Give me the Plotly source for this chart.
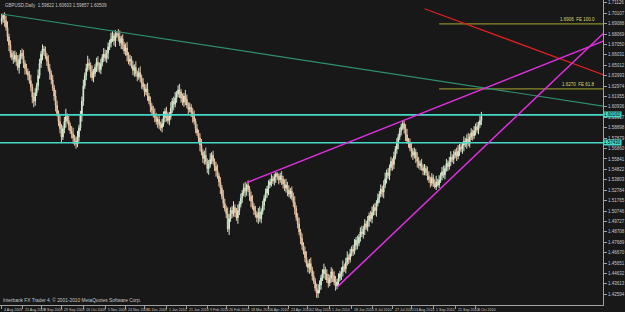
import plotly.graph_objects as go

# ---- data (prices in pips above 1.4000) ----
OPEN0 = 2930
CLOSE = [
    2960, 2990, 2940, 2870,
    2780, 2700, 2620, 2580, 2560,
    2600, 2540, 2480, 2560, 2620, 2590, 2520, 2470,
    2440, 2400, 2350, 2290, 2190, 2150, 2230, 2300,
    2400, 2520, 2610, 2660, 2640, 2590,
    2540, 2470, 2420, 2360, 2280, 2200, 2110, 2030, 1950, 1880,
    1800, 1880, 1950, 2000, 1960, 1910, 1860, 1830, 1790, 1760, 1730, 1800, 1890, 2010,
    2150, 2300, 2400, 2470, 2520, 2500,
    2440, 2380, 2420, 2480, 2530, 2500, 2460, 2520, 2580, 2610, 2570, 2620, 2680, 2720, 2760,
    2790, 2740, 2800, 2810, 2780, 2720, 2760,
    2700, 2640, 2670, 2600, 2540, 2560, 2500, 2450, 2480, 2420, 2390, 2430, 2380,
    2330, 2290, 2240, 2270, 2200, 2150, 2100, 2060, 2020, 1990, 1950, 1970, 1920, 1890, 1930,
    1990, 2050, 2010, 1960, 2000, 2080, 2150, 2120, 2180, 2220,
    2260, 2240, 2180, 2140, 2200, 2170, 2110, 2070, 2090, 2040, 2000,
    1950, 1880, 1840, 1790, 1720, 1650, 1590, 1620, 1560, 1490, 1530,
    1580, 1620, 1560, 1510, 1470, 1420, 1360, 1300,
    1220, 1150, 1100, 1050, 900, 1000, 1080, 1050, 1110, 1060,
    1010, 1080, 1140, 1200, 1250, 1300, 1270, 1330, 1290, 1220,
    1170, 1120, 1080, 1040, 1010, 1060, 1000, 1070, 1130, 1200,
    1250, 1290, 1330, 1360, 1390, 1370, 1410, 1440, 1410, 1380, 1420,
    1390, 1340, 1300, 1330, 1280, 1240, 1270, 1210, 1160,
    1100, 1010, 950, 870, 810, 740, 680, 620, 560, 520,
    560, 500, 440, 390, 320, 270, 300, 350,
    420, 460, 500, 460, 400, 370, 420, 480, 440, 380, 340, 380, 420, 460,
    480, 530, 510, 570, 620, 600, 660, 700, 680, 740, 790, 760, 820,
    870, 850, 900, 950, 920, 980, 1030, 1000, 1060, 1110, 1080, 1150, 1200,
    1240, 1290, 1260, 1330, 1390, 1450, 1420, 1500, 1560, 1530, 1610, 1680, 1740, 1800,
    1860, 1900, 1930, 1880, 1820, 1760,
    1740, 1690, 1660, 1620, 1650, 1590, 1560, 1520, 1540, 1500, 1470, 1490, 1450, 1420,
    1380, 1350, 1400, 1340, 1310, 1360, 1330, 1380,
    1420, 1460, 1430, 1490, 1540, 1510, 1560, 1600, 1580, 1620, 1650, 1610, 1660, 1700, 1680,
    1720, 1760, 1730, 1780, 1740, 1800, 1840, 1810, 1860, 1900, 1870, 1920, 1960, 2000,
]
# upper / lower wicks in units of 15 pips
UPPER_WICK = [
    3,1,2,3,4,2,3,2,4,3, 2,4,3,2,3,4,2,3,2,3, 4,2,3,3,2,4,3,2,3,2, 3,2,4,3,2,3,2,4,3,2,
    4,3,2,3,5,2,3,2,3,4, 2,3,4,2,3,3,4,2,3,5, 3,2,4,3,2,3,4,2,3,2, 4,3,2,3,2,4,3,2,3,1,
    3,4,2,3,2,3,4,2,3,2, 3,2,4,2,3,4,2,3,2,3, 4,2,3,2,3,4,3,2,3,2, 3,4,2,3,2,3,4,2,3,4,
    2,3,4,2,3,2,4,3,2,3, 2,3,4,2,3,2,3,4,2,3, 5,2,3,4,2,3,2,3,4,2, 3,2,4,3,2,4,3,2,3,4,
    2,3,4,2,3,2,3,4,1,3, 2,3,4,2,3,2,3,4,2,3, 2,3,2,3,2,3,2,2,1,1, 2,2,3,2,3,4,2,3,2,3,
    3,4,2,3,4,2,3,2,3,4, 2,3,4,2,3,2,3,4,3,2, 3,4,2,3,4,2,3,2,3,4, 2,3,2,3,4,2,3,4,2,3,
    2,3,4,2,3,2,3,4,2,3, 2,3,2,3,4,2,3,2,3,2, 3,2,3,4,2,3,2,3,2,3, 2,3,2,2,2,2,2,3,4,2,
    3,4,2,3,2,4,3,2,3,2, 3,2,4,3,2,3,2,3,4,2, 3,2,3,4,2,3,2,3,4,2, 3,2,3,4,2,3,2,3,2,3,
    4,2,3,2,3,2,3,2,3,3,
]
LOWER_WICK = [
    2,3,4,2,3,4,3,2,3,2, 3,2,4,3,2,3,4,2,3,2, 3,4,4,3,2,3,2,3,4,3, 2,3,2,4,3,2,3,4,2,3,
    3,4,2,3,4,2,3,2,3,4, 3,3,2,3,2,4,3,2,3,2, 3,4,2,3,2,3,4,2,3,2, 3,2,3,4,2,3,2,3,4,2,
    3,2,4,3,2,3,4,2,3,2, 3,4,2,3,2,3,4,2,3,2, 3,2,4,3,2,3,2,4,3,2, 3,2,3,4,2,3,2,3,4,2,
    3,2,4,3,2,3,4,2,3,2, 3,4,2,3,2,3,4,2,3,4, 2,3,4,2,3,2,3,4,2,3, 4,2,3,2,3,2,4,2,3,2,
    3,2,4,3,2,3,2,4,3,2, 3,4,2,3,2,3,4,2,3,2, 3,2,3,4,2,3,2,3,4,2, 3,2,4,3,2,3,4,2,3,2,
    3,4,2,3,2,4,3,2,3,2, 3,4,2,3,2,2,3,3,2,3, 2,3,4,2,3,2,3,4,2,3, 2,3,2,4,3,2,3,2,3,2,
    2,3,2,3,4,2,3,2,3,4, 2,3,4,2,3,2,3,4,2,3, 2,3,4,2,3,2,3,2,4,3, 2,3,4,2,3,2,3,4,2,3,
    2,4,3,2,3,4,2,3,2,3, 3,2,3,2,3,2,2,1,2,1, 2,2,3,2,3,2,3,2,3,2, 3,2,3,2,3,2,3,4,2,3,
    2,3,2,3,2,3,2,3,2,3,
]
WICK_UNIT = 15

DATE_LABELS = ["4 Aug 2009", "21 Aug 2009", "8 Sep 2009", "29 Sep 2009", "16 Oct 2009",
               "5 Nov 2009", "24 Nov 2009", "11 Dec 2009", "1 Jan 2010", "21 Jan 2010",
               "9 Feb 2010", "26 Feb 2010", "18 Mar 2010", "6 Apr 2010", "23 Apr 2010",
               "12 May 2010", "1 Jun 2010", "18 Jun 2010", "8 Jul 2010", "27 Jul 2010",
               "13 Aug 2010", "1 Sep 2010", "21 Sep 2010", "8 Oct 2010"]
DATE_BARS = [0, 14, 27, 41, 56, 71, 85, 98, 113, 127, 141, 154, 169, 183, 197, 210,
             225, 240, 254, 268, 281, 296, 311, 325]

PRICE_TICKS = [1.71126, 1.70107, 1.69088, 1.68069, 1.67050, 1.66031, 1.65012, 1.63993,
               1.62974, 1.61955, 1.60936, 1.59917, 1.58898, 1.57879, 1.56860, 1.55841,
               1.54822, 1.53803, 1.52784, 1.51765, 1.50746, 1.49727, 1.48708, 1.47689,
               1.46670, 1.45651, 1.44632, 1.43613, 1.42594]

# trend lines: (bar index, price) anchors
GREEN_BARS, GREEN_PRICES = [0, 413], [1.7003, 1.6101]
RED_BARS, RED_PRICES = [290, 413], [1.7055, 1.6407]
UPPER_BARS, UPPER_PRICES = [168, 413], [1.5352, 1.6739]
LOWER_BARS, LOWER_PRICES = [230, 413], [1.4330, 1.6818]
HLINES = [1.6016, 1.5743]
FIB_LEVELS = [1.6906, 1.6270]
FIB_TEXT = ["1.6906  FE 100.0", "1.6270  FE 61.8"]
FIB_START_BAR = 300

X_RANGE = [-1.15, 412.4]
Y_RANGE = [1.4155, 1.7140]

BG = "#181818"
TXT = "#c8c8c8"
NARROW = "Liberation Sans Narrow, Arial Narrow, Liberation Sans, Arial"


def px(v):
    return round(1.4 + v / 10000.0, 5)


opens_v = [OPEN0] + CLOSE[:-1]
n = min(len(CLOSE), len(UPPER_WICK), len(LOWER_WICK))
xs = list(range(n))
o = [px(opens_v[i]) for i in xs]
c = [px(CLOSE[i]) for i in xs]
h = [px(max(opens_v[i], CLOSE[i]) + WICK_UNIT * UPPER_WICK[i]) for i in xs]
l = [px(min(opens_v[i], CLOSE[i]) - WICK_UNIT * LOWER_WICK[i]) for i in xs]

fig = go.Figure()
fig.add_trace(go.Candlestick(
    x=xs, open=o, high=h, low=l, close=c,
    increasing=dict(line=dict(color="#d4ead0", width=1), fillcolor="#d4ead0"),
    decreasing=dict(line=dict(color="#e8c6a6", width=1), fillcolor="#e8c6a6"),
    whiskerwidth=0, showlegend=False, hoverinfo="skip",
))

for yv in HLINES:
    fig.add_trace(go.Scatter(x=X_RANGE, y=[yv, yv], mode="lines",
                             line=dict(color="#48d8c8", width=1.6), showlegend=False, hoverinfo="skip"))
for yv in FIB_LEVELS:
    fig.add_trace(go.Scatter(x=[FIB_START_BAR, X_RANGE[1]], y=[yv, yv], mode="lines",
                             line=dict(color="#8a8a2a", width=1.2), showlegend=False, hoverinfo="skip"))

for bx, by, col, w in [(GREEN_BARS, GREEN_PRICES, "#2f9070", 1.2),
                       (RED_BARS, RED_PRICES, "#e02020", 1.2),
                       (UPPER_BARS, UPPER_PRICES, "#e030e0", 1.5),
                       (LOWER_BARS, LOWER_PRICES, "#e030e0", 1.5)]:
    fig.add_trace(go.Scatter(x=bx, y=by, mode="lines", line=dict(color=col, width=w),
                             showlegend=False, hoverinfo="skip"))

annotations = []
for lab, b in zip(DATE_LABELS, DATE_BARS):
    annotations.append(dict(x=b, y=0, xref="x", yref="paper", text=lab, showarrow=False,
                            xanchor="left", yanchor="top", xshift=0.5, yshift=-1,
                            font=dict(size=3.6, color=TXT, family=NARROW)))
for yv, t in zip(FIB_LEVELS, FIB_TEXT):
    annotations.append(dict(x=1, y=yv, xref="paper", yref="y", text=t, showarrow=False,
                            xanchor="right", yanchor="bottom", xshift=-6, yshift=0,
                            font=dict(size=4.5, color="#d8d870", family=NARROW)))
for yv in HLINES:
    annotations.append(dict(x=1, y=yv, xref="paper", yref="y", text=f"{yv:.5f}", showarrow=False,
                            xanchor="left", yanchor="middle", xshift=0,
                            bgcolor="#48d8c8", borderpad=0,
                            font=dict(size=4.5, color="#000000", family=NARROW)))
annotations.append(dict(x=0, y=1, xref="paper", yref="paper",
                        text="GBPUSD,Daily  1.59822 1.60603 1.59857 1.60509", showarrow=False,
                        xanchor="left", yanchor="top", xshift=3, yshift=-1,
                        font=dict(size=4.5, color=TXT, family=NARROW)))
annotations.append(dict(x=0, y=0, xref="paper", yref="paper",
                        text="Interbank FX Trader 4, © 2001-2010 MetaQuotes Software Corp.",
                        showarrow=False, xanchor="left", yanchor="bottom", xshift=1, yshift=0,
                        font=dict(size=4.8, color=TXT, family=NARROW)))

fig.update_layout(
    width=625, height=312,
    margin=dict(l=0, r=13, t=0, b=7),
    paper_bgcolor=BG, plot_bgcolor=BG,
    annotations=annotations,
    xaxis=dict(range=X_RANGE, showgrid=False, zeroline=False, rangeslider=dict(visible=False),
               tickvals=DATE_BARS, showticklabels=False, ticks="outside", ticklen=3,
               tickcolor="#a0a0a0", showline=True, linecolor="#a0a0a0", linewidth=1),
    yaxis=dict(range=Y_RANGE, side="right", showgrid=False, zeroline=False,
               tickvals=PRICE_TICKS, ticktext=[f"{v:.5f}" for v in PRICE_TICKS],
               ticks="outside", ticklen=3, tickcolor="#a0a0a0",
               tickfont=dict(size=4.5, color=TXT, family=NARROW),
               showline=True, linecolor="#a0a0a0", linewidth=1),
)

fig.write_html("out.html")
